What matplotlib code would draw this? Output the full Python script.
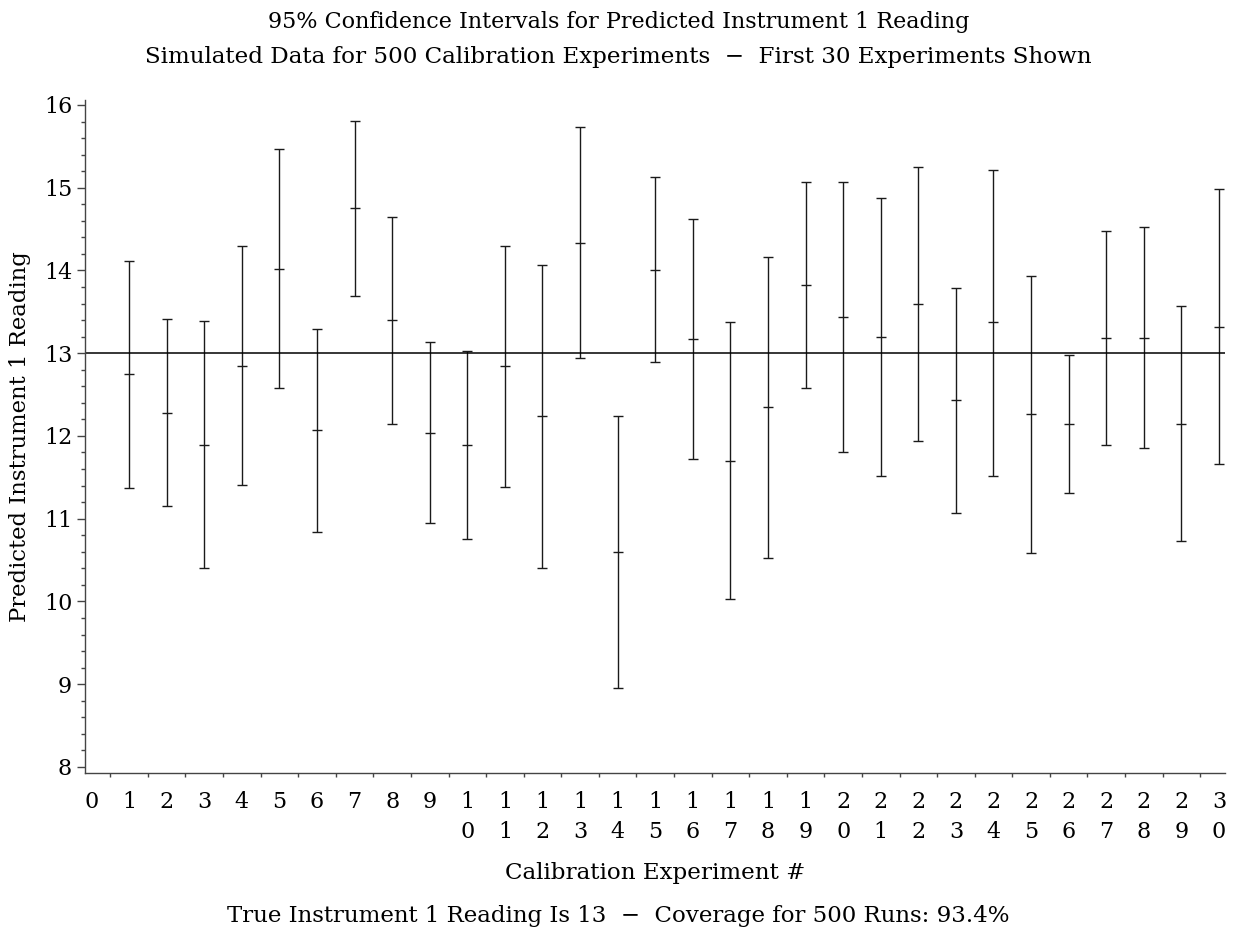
import matplotlib
matplotlib.use("Agg")
import matplotlib.pyplot as plt
import numpy as np

plt.rcParams['font.family'] = ['DejaVu Serif']

experiments = list(range(1, 31))
lower = [11.37, 11.15, 10.40, 11.41, 12.58, 10.84, 13.69, 12.14, 10.95, 10.75,
         11.38, 10.41, 12.94, 8.95, 12.89, 11.72, 10.03, 10.53, 12.58, 11.81,
         11.52, 11.935, 11.07, 11.52, 10.59, 11.31, 11.885, 11.85, 10.73, 11.66]
predicted = [12.745, 12.28, 11.89, 12.85, 14.02, 12.07, 14.75, 13.40, 12.04, 11.89,
             12.84, 12.24, 14.33, 10.60, 14.01, 13.17, 11.70, 12.35, 13.82, 13.44,
             13.20, 13.59, 12.435, 13.375, 12.26, 12.14, 13.185, 13.185, 12.15, 13.315]
upper = [14.12, 13.41, 13.39, 14.29, 15.47, 13.29, 15.81, 14.65, 13.13, 13.03,
         14.30, 14.065, 15.73, 12.245, 15.13, 14.62, 13.38, 14.16, 15.065, 15.065,
         14.88, 15.245, 13.79, 15.22, 13.93, 12.98, 14.48, 14.52, 13.565, 14.98]
true_value = 13
x_tick_values = list(range(0, 31))
x_tick_labels = [str(k) if k < 10 else f"{k // 10}\n{k % 10}" for k in x_tick_values]
y_tick_values = [8, 9, 10, 11, 12, 13, 14, 15, 16]

fig = plt.figure(figsize=(12.37, 9.39), dpi=100)
ax = fig.add_axes([0.0685, 0.1771, 0.9218, 0.7164])

x = np.array(experiments)
lo = np.array(lower); mid = np.array(predicted); hi = np.array(upper)
ax.vlines(x, lo, hi, color='#1a1a1a', lw=1.0)
ax.plot(x, lo, linestyle='none', marker='_', ms=7, mew=1.0, color='#1a1a1a')
ax.plot(x, hi, linestyle='none', marker='_', ms=7, mew=1.0, color='#1a1a1a')
ax.plot(x, mid, linestyle='none', marker='_', ms=7, mew=1.0, color='#1a1a1a')
ax.axhline(true_value, color='black', lw=1.1)

ax.set_xlim(-0.18, 30.16)
ax.set_ylim(7.93, 16.06)

for s in ['top', 'right']:
    ax.spines[s].set_visible(False)
for s in ['left', 'bottom']:
    ax.spines[s].set_color('#444444')
    ax.spines[s].set_linewidth(1.0)

ax.set_xticks(x_tick_values)
ax.set_xticklabels(x_tick_labels, fontsize=16, linespacing=1.5)
ax.set_xticks(np.arange(0.5, 30, 1.0), minor=True)
ax.tick_params(axis='x', which='major', length=0, pad=13)
ax.tick_params(axis='x', which='minor', length=3, width=1, color='#444444')

ax.set_yticks(y_tick_values)
ax.set_yticklabels([str(v) for v in y_tick_values], fontsize=16)
ax.set_yticks(np.arange(8, 16.01, 0.2), minor=True)
ax.tick_params(axis='y', which='major', length=6, width=1, color='#444444', pad=3)
ax.tick_params(axis='y', which='minor', length=3, width=1, color='#444444')

ax.set_ylabel('Predicted Instrument 1 Reading', fontsize=16.4, labelpad=9)

fig.text(0.5, 1 - 22 / 939, '95% Confidence Intervals for Predicted Instrument 1 Reading',
         ha='center', va='center', fontsize=16)
fig.text(0.5, 1 - 57 / 939,
         'Simulated Data for 500 Calibration Experiments  \u2212  First 30 Experiments Shown',
         ha='center', va='center', fontsize=16.6)
fig.text((0.0685 + 0.9903) / 2, 1 - 873 / 939, 'Calibration Experiment #',
         ha='center', va='center', fontsize=16.6)
fig.text(0.5, 1 - 916 / 939,
         'True Instrument 1 Reading Is 13  \u2212  Coverage for 500 Runs: 93.4%',
         ha='center', va='center', fontsize=16.5)

fig.savefig('out.png', dpi=100)
